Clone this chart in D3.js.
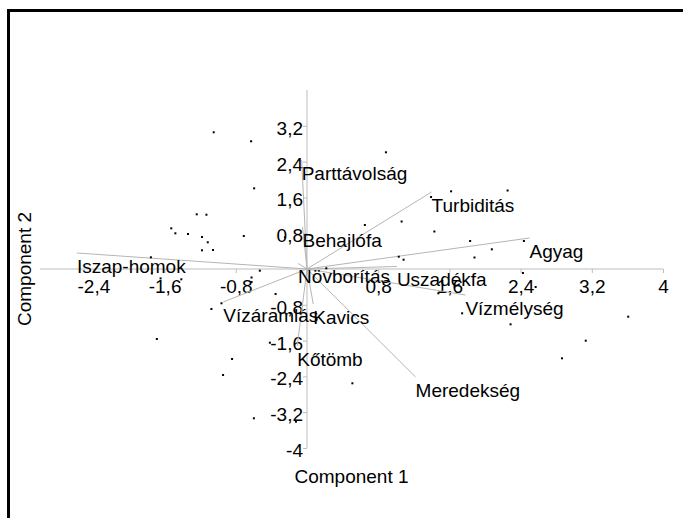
<!DOCTYPE html>
<html>
<head>
<meta charset="utf-8">
<script src="https://cdn.jsdelivr.net/npm/d3@7"></script>
<style>
  html, body { margin: 0; padding: 0; background: #fff; }
  svg { display: block; }
  text { font-family: "Liberation Sans", Arial, sans-serif; fill: #000; }
</style>
</head>
<body>
<svg id="chart" width="683" height="518"></svg>
<script>
// Axis tick values and labels
const xTicks = [-2.4, -1.6, -0.8, 0.8, 1.6, 2.4, 3.2, 4];
const xTickLabels = ["-2,4", "-1,6", "-0,8", "0,8", "1,6", "2,4", "3,2", "4"];
const yTicks = [3.2, 2.4, 1.6, 0.8, -0.8, -1.6, -2.4, -3.2, -4];
const yTickLabels = ["3,2", "2,4", "1,6", "0,8", "-0,8", "-1,6", "-2,4", "-3,2", "-4"];

// Variable loadings (biplot vectors)
const variables = ["Iszap-homok", "Agyag", "Turbiditás", "Parttávolság", "Behajlófa", "Növborítás",
                   "Uszadékfa", "Vízmélység", "Meredekség", "Kavics", "Vízáramlás", "Kőtömb"];
const loadX = [-2.585, 2.50, 1.40, -0.06, -0.05, -0.10, 1.01, 1.78, 1.22, 0.07, -0.94, -0.11];
const loadY = [0.358, 0.693, 1.721, 2.436, 0.939, 0.123, 0.056, -0.581, -2.413, -0.782, -0.737, -1.721];

// Object scores (component 1, component 2)
const scoreX = [-1.048, -0.628, -0.594, -1.239, -1.130, -1.525, -1.479, -1.337, -1.180, -1.115,
                -0.710, -1.180, -1.056, -1.754, -0.530, -1.743, -1.645, -1.412, -0.623, -0.623,
                -0.353, -1.074, -0.961, -1.687, -0.417, -0.842, -0.943, -0.597, -0.124, -0.248,
                0.217, 0.887, 1.619, 2.254, 1.394, 0.650, 1.063, 1.431, 1.833, 2.077,
                2.437, 1.882, 1.031, 1.085, 2.426, 1.476, 2.569, 1.743, 2.287, 3.609,
                3.132, 2.865, 0.510];
const scoreY = [3.055, 2.854, 1.803, 1.222, 1.213, 0.909, 0.798, 0.782, 0.715, 0.597,
                0.737, 0.418, 0.425, 0.261, -0.038, -0.100, -0.210, -0.230, -0.190, -0.290,
                -0.559, -0.894, -0.766, -1.564, -1.647, -2.011, -2.369, -3.336, -3.412, 0.708,
                0.016, 2.608, 1.736, 1.754, 1.609, 0.983, 1.061, 0.838, 0.626, 0.440,
                0.626, 0.257, 0.275, 0.208, -0.089, -0.543, -0.402, -0.990, -1.236, -1.066,
                -1.602, -1.996, -2.554];

const svg = d3.select("#chart");
const fs = 19;

const x = d3.scaleLinear().domain([-3, 4]).range([40, 663]);
const y = d3.scaleLinear().domain([-4, 4]).range([448, 90]);

const axisColor = "#bdbdbd";

// Frame
svg.append("rect")
  .attr("x", 8.5).attr("y", 10.5)
  .attr("width", 720).attr("height", 600)
  .attr("fill", "none").attr("stroke", "#000").attr("stroke-width", 3);

// X axis through origin
const xAxis = d3.axisBottom(x).tickValues(xTicks).tickSize(4).tickFormat((d, i) => xTickLabels[i]);
const gx = svg.append("g").attr("transform", `translate(0,${y(0)})`).call(xAxis);
gx.select(".domain").attr("stroke", axisColor).attr("d", `M${x(-3)},0H${x(4)}`);
gx.selectAll(".tick line").attr("stroke", axisColor);
gx.selectAll(".tick text")
  .attr("y", 24).attr("dy", 0)
  .style("font-size", fs + "px").style("font-family", '"Liberation Sans", Arial, sans-serif')
  .attr("fill", "#000");

// Y axis through origin
const yAxis = d3.axisLeft(y).tickValues(yTicks).tickSize(4).tickFormat((d, i) => yTickLabels[i]);
const gy = svg.append("g").attr("transform", `translate(${x(0)},0)`).call(yAxis);
gy.select(".domain").attr("stroke", axisColor).attr("d", `M0,${y(4)}V${y(-4)}`);
gy.selectAll(".tick line").attr("stroke", axisColor);
gy.selectAll(".tick text")
  .attr("x", -4).attr("dy", 0).attr("y", 8.5)
  .style("font-size", fs + "px").style("font-family", '"Liberation Sans", Arial, sans-serif')
  .attr("fill", "#000");

// Biplot vectors
const vecs = variables.map((name, i) => ({ name, x: loadX[i], y: loadY[i] }));
svg.append("g").selectAll("line").data(vecs).join("line")
  .attr("x1", x(0)).attr("y1", y(0))
  .attr("x2", d => x(d.x)).attr("y2", d => y(d.y))
  .attr("stroke", "#b5b5b5").attr("stroke-width", 1);

// Score points
const pts = scoreX.map((v, i) => ({ x: v, y: scoreY[i] }));
svg.append("g").selectAll("rect").data(pts).join("rect")
  .attr("x", d => x(d.x) - 1).attr("y", d => y(d.y) - 1)
  .attr("width", 2).attr("height", 2).attr("fill", "#000");

// Vector labels
svg.append("g").selectAll("text").data(vecs).join("text")
  .attr("x", d => x(d.x)).attr("y", d => y(d.y) + 20)
  .style("font-size", fs + "px")
  .text(d => d.name);

// Axis titles
svg.append("text")
  .attr("x", (x(-3) + x(4)) / 2).attr("y", 483)
  .attr("text-anchor", "middle").style("font-size", fs + "px")
  .text("Component 1");

svg.append("text")
  .attr("transform", `translate(31,${(y(4) + y(-4)) / 2}) rotate(-90)`)
  .attr("text-anchor", "middle").style("font-size", fs + "px")
  .text("Component 2");
</script>
</body>
</html>
